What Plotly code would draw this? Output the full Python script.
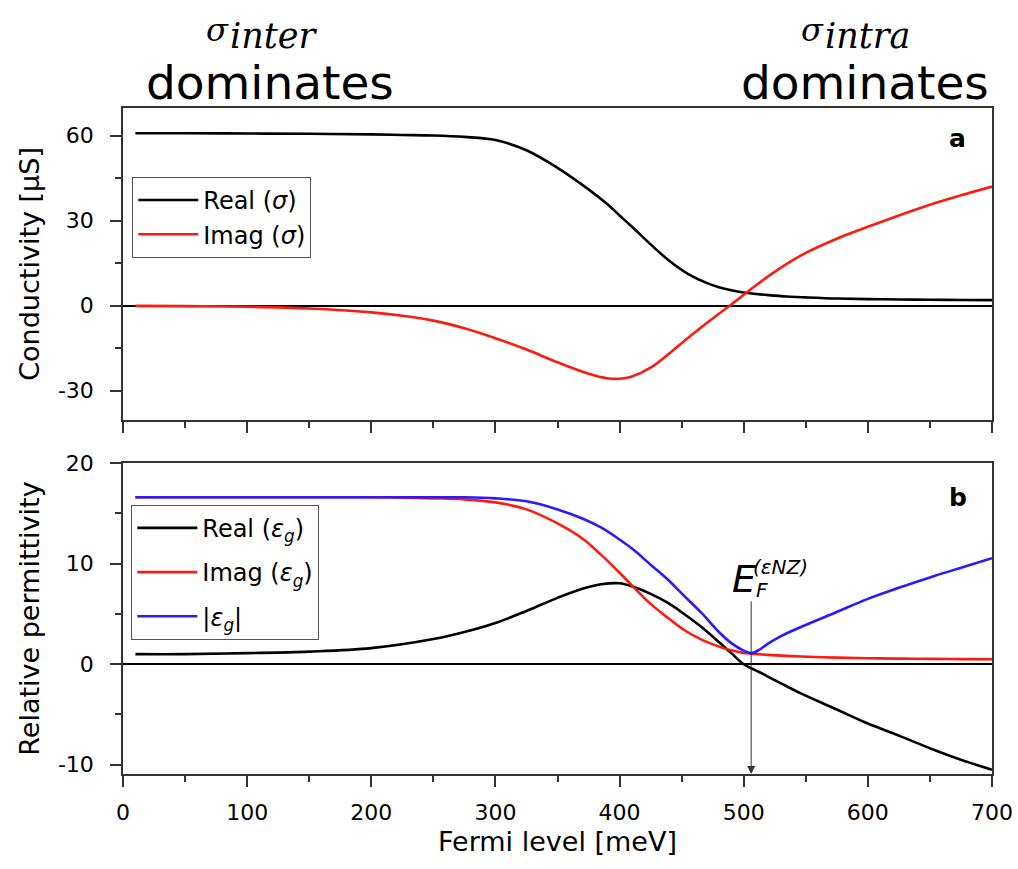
import plotly.graph_objects as go

# ---------------- data ----------------
x_sigma = [10, 50, 100, 150, 200, 225, 250, 275, 300, 325, 350, 375, 390, 400, 410,
           425, 440, 455, 470, 480, 490, 500, 510, 520, 535, 550, 575, 600, 625, 650, 675, 700]
sigma_real = [60.8, 60.8, 60.7, 60.6, 60.4, 60.2, 60.0, 59.5, 58.4, 54.8, 48.6, 41.0, 35.8, 31.8, 27.8,
              21.6, 15.8, 11.2, 8.0, 6.5, 5.4, 4.6, 4.1, 3.7, 3.2, 2.9, 2.5, 2.3, 2.15, 2.05, 2.0, 1.95]
sigma_imag = [-0.1, -0.2, -0.4, -1.0, -2.4, -3.6, -5.3, -8.0, -11.5, -15.5, -20.0, -24.0, -25.6, -25.8, -25.0,
              -21.9, -16.9, -11.4, -6.2, -2.9, 0.4, 3.8, 7.2, 10.4, 14.8, 18.6, 23.6, 27.8, 31.8, 35.6, 38.9, 42.0]

x_eps = [10, 50, 100, 150, 200, 250, 275, 300, 325, 350, 370, 385, 400, 411, 425, 439,
         452, 466, 480, 490, 500, 506, 512, 519, 530, 546, 575, 600, 625, 653, 675, 700]
eps_real = [1.0, 1.0, 1.1, 1.25, 1.6, 2.5, 3.2, 4.1, 5.3, 6.6, 7.5, 7.95, 8.05, 7.7, 7.0, 6.1,
            5.0, 3.7, 2.2, 1.1, 0.0, -0.4, -0.75, -1.2, -1.9, -2.9, -4.5, -5.9, -7.1, -8.5, -9.5, -10.5]
eps_imag = [16.6, 16.6, 16.6, 16.6, 16.6, 16.5, 16.4, 16.1, 15.4, 14.0, 12.5, 10.9, 9.1, 7.7, 6.0, 4.6,
            3.4, 2.45, 1.75, 1.38, 1.13, 1.05, 1.0, 0.93, 0.85, 0.76, 0.66, 0.6, 0.56, 0.53, 0.51, 0.5]
eps_abs = [16.6, 16.6, 16.6, 16.6, 16.6, 16.6, 16.6, 16.5, 16.2, 15.4, 14.5, 13.6, 12.4, 11.4, 9.9, 8.4,
           6.8, 5.1, 3.2, 2.1, 1.35, 1.1, 1.4, 2.0, 2.8, 3.7, 5.2, 6.5, 7.6, 8.75, 9.6, 10.55]

x_ticks = [0, 100, 200, 300, 400, 500, 600, 700]
y_ticks_top = [-30, 0, 30, 60]
y_ticks_bottom = [-10, 0, 10, 20]
enz_level = 506  # E_F^(eps NZ) marker position [meV]

# ---------------- figure ----------------
FONT = "DejaVu Sans"
BLACK, RED, BLUE = "#000000", "#ff1a0d", "#2a1aff"
AX = "#333333"
LINE = dict(width=2.6, shape="spline", smoothing=1.0)

fig = go.Figure()

fig.add_trace(go.Scatter(x=x_sigma, y=sigma_real, mode="lines", name="Real (<i>σ</i>)",
                         line=dict(color=BLACK, **LINE),
                         xaxis="x", yaxis="y", legend="legend", legendgroup="a1"))
fig.add_trace(go.Scatter(x=x_sigma, y=sigma_imag, mode="lines", name="Imag (<i>σ</i>)",
                         line=dict(color=RED, **LINE),
                         xaxis="x", yaxis="y", legend="legend", legendgroup="a2"))

fig.add_trace(go.Scatter(x=x_eps, y=eps_real, mode="lines", name="Real (<i>ε</i><sub><i>g</i></sub>)",
                         line=dict(color=BLACK, **LINE),
                         xaxis="x2", yaxis="y2", legend="legend2", legendgroup="b1"))
fig.add_trace(go.Scatter(x=x_eps, y=eps_imag, mode="lines", name="Imag (<i>ε</i><sub><i>g</i></sub>)",
                         line=dict(color=RED, **LINE),
                         xaxis="x2", yaxis="y2", legend="legend2", legendgroup="b2"))
fig.add_trace(go.Scatter(x=x_eps, y=eps_abs, mode="lines", name="|<i>ε</i><sub><i>g</i></sub>|",
                         line=dict(color=BLUE, **LINE),
                         xaxis="x2", yaxis="y2", legend="legend2", legendgroup="b3"))

L, R, T, B = 122.7, 26, 108, 94.7
W, H = 1018, 869
PW, PH = W - L - R, H - T - B


def px(xp):
    return (xp - L) / PW


def py(yp):
    return (H - B - yp) / PH


axis_common = dict(showline=True, linecolor=AX, linewidth=1.5, mirror=True, showgrid=False,
                   ticks="outside", ticklen=11, tickwidth=1.5, tickcolor=AX,
                   tickfont=dict(family=FONT, size=22, color="black"))

fig.update_layout(
    width=W, height=H,
    margin=dict(l=L, r=R, t=T, b=B, autoexpand=False),
    paper_bgcolor="white", plot_bgcolor="white",
    font=dict(family=FONT, size=22, color="black"),
    xaxis=dict(domain=[0, 1], anchor="y", range=[0, 700], tickmode="array", tickvals=x_ticks,
               showticklabels=False, zeroline=False,
               minor=dict(ticks="outside", ticklen=6, tickwidth=1.5, tickcolor=AX, dtick=50, tick0=0),
               **axis_common),
    yaxis=dict(domain=[py(420), 1], anchor="x", range=[-40.3, 69.7], tickmode="array",
               tickvals=y_ticks_top, ticktext=[str(v) for v in y_ticks_top],
               zeroline=True, zerolinecolor="black", zerolinewidth=1.6, ticklabelstandoff=12,
               minor=dict(ticks="outside", ticklen=6, tickwidth=1.5, tickcolor=AX, dtick=15, tick0=0),
               title=dict(text="Conductivity [μS]", font=dict(family=FONT, size=27), standoff=10),
               **axis_common),
    xaxis2=dict(domain=[0, 1], anchor="y2", range=[0, 700], tickmode="array", tickvals=x_ticks,
                zeroline=False, ticklabelstandoff=7,
                minor=dict(ticks="outside", ticklen=6, tickwidth=1.5, tickcolor=AX, dtick=50, tick0=0),
                title=dict(text="Fermi level [meV]", font=dict(family=FONT, size=27), standoff=8),
                **axis_common),
    yaxis2=dict(domain=[0, py(463.3)], anchor="x2", range=[-10.92, 20], tickmode="array",
                tickvals=y_ticks_bottom, ticktext=[str(v) for v in y_ticks_bottom],
                zeroline=True, zerolinecolor="black", zerolinewidth=1.6,
                ticklabelstandoff=12,
                minor=dict(ticks="outside", ticklen=6, tickwidth=1.5, tickcolor=AX, dtick=5, tick0=0),
                title=dict(text="Relative permittivity", font=dict(family=FONT, size=27), standoff=10),
                **axis_common),
    legend=dict(x=px(132), y=py(177), xanchor="left", yanchor="top", bgcolor="white",
                bordercolor="#555555", borderwidth=1, font=dict(family=FONT, size=24),
                traceorder="grouped", tracegroupgap=0, itemwidth=60),
    legend2=dict(x=px(131), y=py(505), xanchor="left", yanchor="top", bgcolor="white",
                 bordercolor="#555555", borderwidth=1, font=dict(family=FONT, size=24),
                 traceorder="grouped", tracegroupgap=10, itemwidth=60),
)

SERIF = "DejaVu Serif"
annotations = [
    # header texts
    dict(text="<i>σ</i>", x=px(217), y=py(30), font=dict(family=SERIF, size=32)),
    dict(text="<i>inter</i>", x=px(228), y=py(36), xanchor="left", font=dict(family=SERIF, size=35)),
    dict(text="dominates", x=px(270), y=py(82), font=dict(family=FONT, size=47)),
    dict(text="<i>σ</i>", x=px(812), y=py(30), font=dict(family=SERIF, size=32)),
    dict(text="<i>intra</i>", x=px(823), y=py(36), xanchor="left", font=dict(family=SERIF, size=35)),
    dict(text="dominates", x=px(865), y=py(82), font=dict(family=FONT, size=47)),
]
for a in annotations:
    a.update(xref="paper", yref="paper", showarrow=False)
    a.setdefault("xanchor", "center")
    a.setdefault("yanchor", "middle")

# panel labels
annotations += [
    dict(text="<b>a</b>", x=672.5, y=58.8, xref="x", yref="y", showarrow=False,
         font=dict(family=FONT, size=25)),
    dict(text="<b>b</b>", x=672.5, y=16.6, xref="x2", yref="y2", showarrow=False,
         font=dict(family=FONT, size=25)),
    # E_F^(eps NZ) label
    dict(text="<i>E</i>", x=500, y=8.5, xref="x2", yref="y2", showarrow=False,
         font=dict(family=FONT, size=38)),
    dict(text="<i>(εNZ)</i>", x=530, y=9.7, xref="x2", yref="y2", showarrow=False,
         font=dict(family=FONT, size=20)),
    dict(text="<i>F</i>", x=515, y=7.4, xref="x2", yref="y2", showarrow=False,
         font=dict(family=FONT, size=20)),
    # arrow
    dict(text="", x=enz_level, y=-10.92, xref="x2", yref="y2",
         ax=enz_level, ay=6.4, axref="x2", ayref="y2",
         showarrow=True, arrowhead=2, arrowsize=1.6, arrowwidth=1, arrowcolor="#333333", standoff=0),
]
fig.update_layout(annotations=annotations)

fig.write_html("out.html")
